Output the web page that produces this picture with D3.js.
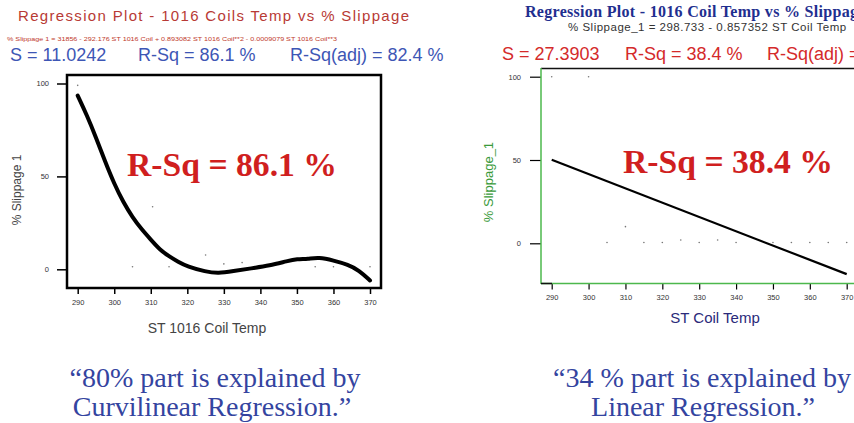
<!DOCTYPE html>
<meta charset="utf-8">

<head>
    <script src="https://d3js.org/d3.v7.min.js"></script>
</head>
<style>
    body {
        margin: 0;
        background: #fff;
        overflow: hidden;
    }

    .tick text {
        font: 7.5px "Liberation Sans", Arial, sans-serif;
        fill: #333;
    }
</style>

<body>
    <script>
        'use strict';

        // ---- data ----
        const xTicks = [290, 300, 310, 320, 330, 340, 350, 360, 370];
        const yTicks = [0, 50, 100];

        // curvilinear fit (left)
        const curveTemp = [290, 292.5, 295, 297.5, 300, 302.5, 305, 307.5, 310, 312.5, 315, 317.5, 320, 325, 328.5, 332.5, 337.5, 342.5, 347.5, 350, 353, 356, 360, 364, 367, 370];
        const curveSlip = [93.5, 83, 71, 58, 46, 36, 28, 21.5, 16, 10.5, 7, 4, 1.5, -1.3, -2.2, -1, 0.5, 2, 4.5, 5.5, 5.6, 6.5, 4.8, 2.5, -0.5, -6];
        const leftDotTemp = [290, 310.5, 305, 315, 325, 330, 335, 355, 360, 370];
        const leftDotSlip = [99, 33.7, 1.4, 1.4, 7.7, 2.9, 3.6, 1.4, 1.4, 1.4];

        // linear fit (right)
        const lineTemp = [290, 370];
        const lineSlip = [50.1, -18.5];
        const rightDotTemp = [290, 300, 310, 305, 315, 320, 325, 330, 335, 340, 350, 355, 360, 365, 370];
        const rightDotSlip = [100, 100, 10, 0.5, 0.5, 0.5, 2, 0.5, 2, 0.5, 0.5, 0.5, 0.5, 0.5, 0.5];

        const sans = '"Liberation Sans", Arial, sans-serif';
        const serif = '"Liberation Serif", "Times New Roman", serif';

        const svg = d3.select("body").append("svg")
            .attr("width", 854)
            .attr("height", 423);

        function txt(x, y, s, size, color, family, extra) {
            const t = svg.append("text")
                .attr("x", x).attr("y", y)
                .style("font-family", family)
                .style("font-size", size + "px")
                .attr("fill", color)
                .text(s);
            if (extra) extra(t);
            return t;
        }

        // ================= left panel =================
        const xL = d3.scaleLinear().domain([290, 370]).range([77.7, 370]);
        const yL = d3.scaleLinear().domain([0, 100]).range([269.3, 83.5]);

        txt(18, 20.5, "Regression Plot - 1016 Coils Temp vs % Slippage", 15, "#b83a35", sans,
            t => t.attr("textLength", 391).attr("lengthAdjust", "spacing"));
        txt(7, 41, "% Slippage 1 = 31856 - 292.176 ST 1016 Coil + 0.893082 ST 1016 Coil**2 - 0.0009079 ST 1016 Coil**3", 5.5, "#c0392b", sans,
            t => t.attr("textLength", 330).attr("lengthAdjust", "spacingAndGlyphs"));
        txt(10, 61, "S = 11.0242", 18, "#3d56b5", sans);
        txt(138, 61, "R-Sq = 86.1 %", 18, "#3d56b5", sans);
        txt(290, 61, "R-Sq(adj) = 82.4 %", 18, "#3d56b5", sans);

        svg.append("g")
            .attr("transform", "translate(67,0)")
            .call(d3.axisLeft(yL).tickValues(yTicks).tickSize(10).tickPadding(8))
            .call(g => g.select(".domain").remove())
            .call(g => g.selectAll(".tick line").attr("stroke", "#000").attr("stroke-width", 1.5));

        svg.append("g")
            .attr("transform", "translate(0,288)")
            .call(d3.axisBottom(xL).tickValues(xTicks).tickSize(6).tickPadding(6))
            .call(g => g.select(".domain").remove())
            .call(g => g.selectAll(".tick line").attr("stroke", "#000").attr("stroke-width", 1.5));

        svg.append("g").selectAll("circle")
            .data(leftDotTemp)
            .join("circle")
            .attr("cx", d => xL(d))
            .attr("cy", (d, i) => yL(leftDotSlip[i]))
            .attr("r", 0.8)
            .attr("fill", "#777");

        svg.append("path")
            .datum(curveTemp.map((t, i) => [t, curveSlip[i]]))
            .attr("fill", "none")
            .attr("stroke", "#000")
            .attr("stroke-width", 4)
            .attr("stroke-linecap", "round")
            .attr("d", d3.line().x(d => xL(d[0])).y(d => yL(d[1])).curve(d3.curveBasis));

        svg.append("rect")
            .attr("x", 67).attr("y", 75)
            .attr("width", 314).attr("height", 213)
            .attr("fill", "none")
            .attr("stroke", "#000")
            .attr("stroke-width", 2.5);

        txt(21, 190, "% Slippage 1", 12, "#444", sans, t => t
            .attr("text-anchor", "middle")
            .attr("transform", "rotate(-90,21,190)"));
        txt(207, 333, "ST 1016 Coil Temp", 14, "#444", sans, t => t.attr("text-anchor", "middle"));

        txt(127, 176, "R-Sq = 86.1 %", 34, "#d01f1f", serif, t => t
            .style("font-weight", "bold")
            .attr("textLength", 210).attr("lengthAdjust", "spacingAndGlyphs"));

        txt(215, 387, "\u201C80% part is explained by", 28, "#3444a0", serif, t => t.attr("text-anchor", "middle"));
        txt(212, 416, "Curvilinear Regression.\u201D", 28, "#3444a0", serif, t => t.attr("text-anchor", "middle"));

        // ================= right panel =================
        const xR = d3.scaleLinear().domain([290, 370]).range([551.7, 846.7]);
        const yR = d3.scaleLinear().domain([0, 100]).range([243.3, 76.7]);

        txt(525, 16.5, "Regression Plot - 1016 Coil Temp vs % Slippage", 16, "#1f2f8f", serif, t => t
            .style("font-weight", "bold").style("letter-spacing", "0.3px"));
        txt(568, 31, "% Slippage_1 = 298.733 - 0.857352 ST Coil Temp", 11.5, "#333", sans, t => t
            .style("letter-spacing", "0.5px"));
        txt(502, 60, "S = 27.3903", 18, "#d42a2a", sans);
        txt(625, 60, "R-Sq = 38.4 %", 18, "#d42a2a", sans);
        txt(767, 60, "R-Sq(adj) = 34.0 %", 18, "#d42a2a", sans);

        svg.append("g")
            .attr("transform", "translate(541,0)")
            .call(d3.axisLeft(yR).tickValues(yTicks).tickSize(11).tickPadding(9))
            .call(g => g.select(".domain").remove())
            .call(g => g.selectAll(".tick line").attr("stroke", "#000").attr("stroke-width", 1.2));

        svg.append("g")
            .attr("transform", "translate(0,283.5)")
            .call(d3.axisBottom(xR).tickValues(xTicks).tickSize(6).tickPadding(5))
            .call(g => g.select(".domain").remove())
            .call(g => g.selectAll(".tick line").attr("stroke", "#000").attr("stroke-width", 1.2));

        // frame: dark top, green left/bottom
        svg.append("line").attr("x1", 541).attr("x2", 854).attr("y1", 68.5).attr("y2", 68.5)
            .attr("stroke", "#111").attr("stroke-width", 1.5);
        svg.append("line").attr("x1", 541).attr("x2", 541).attr("y1", 68).attr("y2", 284)
            .attr("stroke", "#4cb84c").attr("stroke-width", 1.5);
        svg.append("line").attr("x1", 541).attr("x2", 854).attr("y1", 283.5).attr("y2", 283.5)
            .attr("stroke", "#4cb84c").attr("stroke-width", 1.5);
        svg.append("line").attr("x1", 541).attr("x2", 552).attr("y1", 283.5).attr("y2", 283.5)
            .attr("stroke", "#111").attr("stroke-width", 1.5);

        svg.append("g").selectAll("circle")
            .data(rightDotTemp)
            .join("circle")
            .attr("cx", d => xR(d))
            .attr("cy", (d, i) => yR(rightDotSlip[i]))
            .attr("r", 0.8)
            .attr("fill", "#777");

        svg.append("path")
            .datum(lineTemp.map((t, i) => [t, lineSlip[i]]))
            .attr("fill", "none")
            .attr("stroke", "#000")
            .attr("stroke-width", 2.2)
            .attr("d", d3.line().x(d => xR(d[0])).y(d => yR(d[1])));

        txt(493, 182, "% Slippage_1", 13, "#3a9a3a", sans, t => t
            .attr("text-anchor", "middle")
            .attr("transform", "rotate(-90,493,182)"));
        txt(715, 323, "ST Coil Temp", 15, "#2a2a7a", sans, t => t.attr("text-anchor", "middle"));

        txt(623, 173, "R-Sq = 38.4 %", 34, "#d01f1f", serif, t => t
            .style("font-weight", "bold")
            .attr("textLength", 210).attr("lengthAdjust", "spacingAndGlyphs"));

        txt(702, 387, "\u201C34 % part is explained by", 28, "#3444a0", serif, t => t.attr("text-anchor", "middle"));
        txt(703, 416, "Linear Regression.\u201D", 28, "#3444a0", serif, t => t.attr("text-anchor", "middle"));
    </script>
</body>
